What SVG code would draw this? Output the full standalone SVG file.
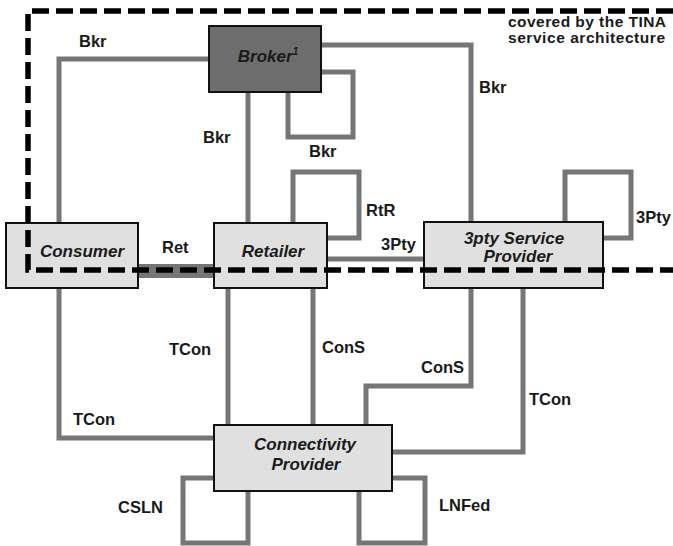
<svg xmlns="http://www.w3.org/2000/svg" width="673" height="546" viewBox="0 0 673 546">
<style>
.c{fill:none;stroke:#767676;stroke-width:5;stroke-linejoin:miter}
.n{fill:#e0e0e0;stroke:#111;stroke-width:2}
.nt{font-family:"Liberation Sans",Arial,sans-serif;font-weight:bold;font-style:italic;font-size:17px;fill:#1a1a1a;text-anchor:middle}
.l{font-family:"Liberation Sans",Arial,sans-serif;font-weight:bold;font-size:16.5px;fill:#1a1a1a}
.b{fill:none;stroke:#000;stroke-width:5.5;stroke-dasharray:17 7}
</style>
<rect width="673" height="546" fill="#fff"/>
<g id="connectors">
<path class="c" d="M212 59 H59 V225"/>
<path class="c" d="M248 90 V225"/>
<path class="c" d="M288 90 V137 H353 V72 H319"/>
<path class="c" d="M319 45 H471 V224"/>
<path class="c" d="M293 225 V172 H359 V238 H325"/>
<path class="c" d="M325 259 H426"/>
<path class="c" style="stroke-width:14" d="M136 271 H216"/>
<path class="c" d="M565 224 V172 H631 V238 H601"/>
<path class="c" d="M59 286 V438 H216"/>
<path class="c" d="M228 286 V427"/>
<path class="c" d="M313 286 V427"/>
<path class="c" d="M471 286 V386 H366 V427"/>
<path class="c" d="M523 286 V452 H390"/>
<path class="c" d="M216 478 H183 V543 H248 V489"/>
<path class="c" d="M390 478 H425 V543 H359 V489"/>
<text class="l" x="79" y="47">Bkr</text>
<text class="l" x="203" y="143">Bkr</text>
<text class="l" x="309" y="157">Bkr</text>
<text class="l" x="479" y="93">Bkr</text>
<text class="l" x="366" y="216">RtR</text>
<text class="l" x="381" y="250">3Pty</text>
<text class="l" x="162" y="253">Ret</text>
<text class="l" x="636" y="223">3Pty</text>
<text class="l" x="73" y="425">TCon</text>
<text class="l" x="169" y="355">TCon</text>
<text class="l" x="322" y="353">ConS</text>
<text class="l" x="421" y="373">ConS</text>
<text class="l" x="529" y="405">TCon</text>
<text class="l" x="118" y="513">CSLN</text>
<text class="l" x="439" y="511">LNFed</text>
</g>
<g id="broker">
<rect class="n" x="209" y="26" width="112" height="66" style="fill:#6e6e6e"/>
<text class="nt" x="268" y="62">Broker<tspan font-size="10" dy="-7">1</tspan></text>
</g>
<g id="consumer">
<rect class="n" x="6" y="223" width="132" height="65"/>
<text class="nt" x="82" y="257">Consumer</text>
</g>
<g id="retailer">
<rect class="n" x="214" y="223" width="113" height="65"/>
<text class="nt" x="273" y="257">Retailer</text>
</g>
<g id="thirdparty">
<rect class="n" x="424" y="222" width="179" height="66"/>
<text class="nt" x="514" y="244">3pty Service</text>
<text class="nt" x="518" y="262">Provider</text>
</g>
<g id="connectivity">
<rect class="n" x="214" y="425" width="178" height="66"/>
<text class="nt" x="305" y="450">Connectivity</text>
<text class="nt" x="306" y="470">Provider</text>
</g>
<g id="boundary">
<path class="b" d="M673 11 H28 V270 H673"/>
<text class="l" x="508" y="27" style="font-size:15.5px" textLength="158" lengthAdjust="spacing">covered by the TINA</text>
<text class="l" x="508" y="43" style="font-size:15.5px" textLength="157" lengthAdjust="spacing">service architecture</text>
</g>
</svg>
